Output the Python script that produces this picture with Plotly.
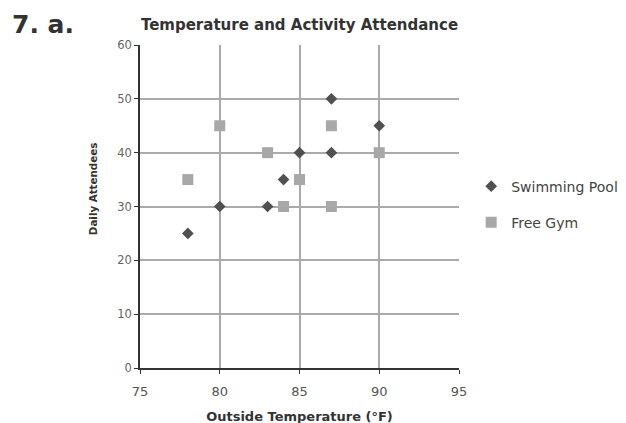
import plotly.graph_objects as go

pool_x = [78, 80, 83, 84, 85, 87, 87, 90]
pool_y = [25, 30, 30, 35, 40, 50, 40, 45]
gym_x = [78, 80, 83, 84, 85, 87, 87, 90]
gym_y = [35, 45, 40, 30, 35, 45, 30, 40]

fig = go.Figure()
fig.add_trace(go.Scatter(x=pool_x, y=pool_y, mode="markers", name="Swimming Pool", legendgroup="a",
                         marker=dict(symbol="diamond", size=9, color="#505050")))
fig.add_trace(go.Scatter(x=gym_x, y=gym_y, mode="markers", name="Free Gym", legendgroup="b",
                         marker=dict(symbol="square", size=11, color="#a8a8a8")))

font = "DejaVu Sans, sans-serif"
fig.update_layout(
    width=626, height=423,
    margin=dict(l=132, r=174, t=37, b=63),
    paper_bgcolor="white", plot_bgcolor="white",
    font=dict(family=font, size=12, color="#444"),
    title=dict(text="<b>Temperature and Activity Attendance</b>", x=0.5, xref="paper", xanchor="center",
               y=1 - 17 / 423, yanchor="middle", font=dict(size=15, color="#333")),
    legend=dict(x=1.035, y=0.506, xanchor="left", yanchor="middle",
                font=dict(size=14, color="#444"), itemsizing="trace", tracegroupgap=15),
    showlegend=True,
)
fig.update_xaxes(range=[75, 95], dtick=5, tick0=75, showgrid=True, gridcolor="#aaaaaa", gridwidth=1.5,
                 showline=True, linecolor="#333", linewidth=1.5, ticks="outside", ticklen=4,
                 tickcolor="#333", zeroline=False, automargin=False, tickfont=dict(size=13, color="#555"),
                 ticklabelstandoff=7,
                 title=dict(text="<b>Outside Temperature (°F)</b>", font=dict(size=13, color="#333"), standoff=14))
fig.update_yaxes(range=[0, 60], dtick=10, showgrid=True, gridcolor="#aaaaaa", gridwidth=1.5,
                 showline=True, linecolor="#333", linewidth=1.5, ticks="outside", ticklen=4,
                 tickcolor="#333", zeroline=False, automargin=False, tickfont=dict(size=11.5, color="#666"))
fig.add_annotation(text="<b>Daily Attendees</b>", xref="paper", yref="paper",
                   x=(93 - 140) / 320, y=(368 - 189) / 323, xanchor="center", yanchor="middle",
                   textangle=-90, showarrow=False, font=dict(size=10.3, color="#333", family=font))
fig.add_annotation(text="<b>7. a.</b>", xref="paper", yref="paper", x=-0.406, y=1 + 37 / 323,
                   xanchor="left", yanchor="top", showarrow=False,
                   font=dict(size=25, color="#333", family=font))
fig.write_html("out.html")
